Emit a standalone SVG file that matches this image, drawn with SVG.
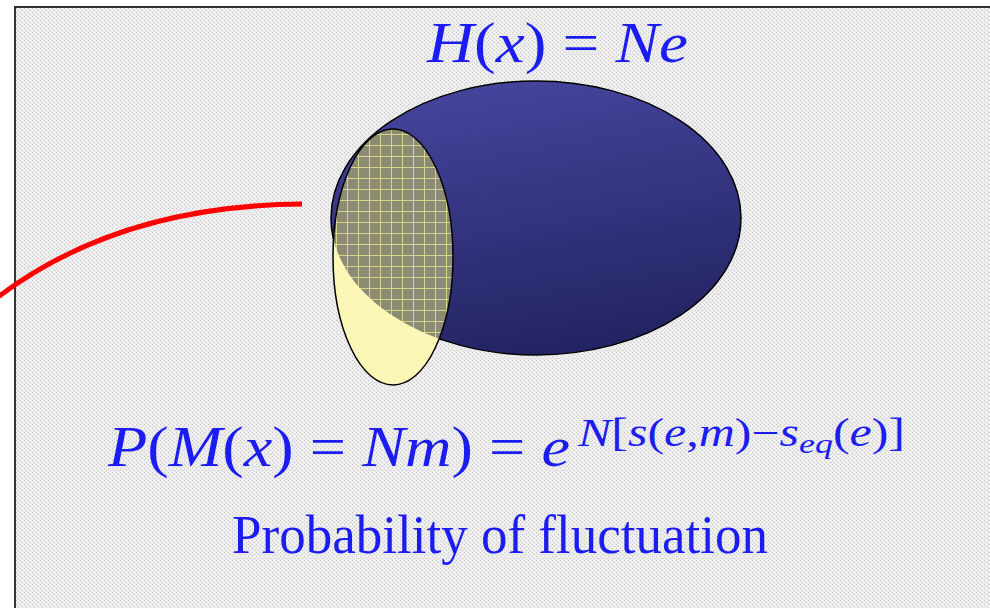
<svg xmlns="http://www.w3.org/2000/svg" width="990" height="608" viewBox="0 0 990 608">
<defs>
<pattern id="dots" width="4" height="4" patternUnits="userSpaceOnUse">
<rect width="4" height="4" fill="#ececec"/>
<rect x="0" y="0" width="1" height="1" fill="#c8c8c8"/>
<rect x="2" y="2" width="1" height="1" fill="#c8c8c8"/>
<rect x="2" y="0" width="1" height="1" fill="#ffffff"/>
</pattern>
<pattern id="grid" width="11" height="11" patternUnits="userSpaceOnUse" x="336" y="134">
<rect width="11" height="11" fill="#8c8b73"/>
<path d="M0 0.5H11M0.5 0V11" stroke="#d8d28a" stroke-width="1" fill="none"/>
</pattern>
<linearGradient id="blue" x1="0.3" y1="0" x2="0.55" y2="1">
<stop offset="0" stop-color="#45459e"/>
<stop offset="1" stop-color="#232362"/>
</linearGradient>
<clipPath id="blueClip"><ellipse cx="536" cy="218" rx="205" ry="137"/></clipPath>
<style>
.m{font-family:"Liberation Serif","DejaVu Serif",serif;fill:#1c1cf0;}
.i{font-style:italic;}
</style>
</defs>
<rect width="990" height="608" fill="#ffffff"/>
<rect x="15" y="7" width="990" height="620" fill="url(#dots)" stroke="#333333" stroke-width="2"/>
<g id="connectors">
<path d="M -2 297 C 80 235, 180 205, 302 204" fill="none" stroke="#ff0000" stroke-width="5"/>
</g>
<g id="set-H">
<ellipse cx="536" cy="218" rx="205" ry="137" fill="url(#blue)" stroke="#000000" stroke-width="1.5"/>
</g>
<g id="set-M">
<ellipse cx="393" cy="257" rx="60" ry="128" fill="#fcf7b6"/>
<ellipse cx="393" cy="257" rx="60" ry="128" fill="url(#grid)" clip-path="url(#blueClip)"/>
<ellipse cx="393" cy="257" rx="60" ry="128" fill="none" stroke="#000000" stroke-width="1.5"/>
</g>
<g id="labels">
<text class="m" x="427" y="62" font-size="56" textLength="261" lengthAdjust="spacingAndGlyphs"><tspan class="i">H</tspan>(<tspan class="i">x</tspan>) = <tspan class="i">Ne</tspan></text>
<text class="m" x="108" y="466" font-size="57" textLength="462" lengthAdjust="spacingAndGlyphs"><tspan class="i">P</tspan>(<tspan class="i">M</tspan>(<tspan class="i">x</tspan>) = <tspan class="i">Nm</tspan>) = <tspan class="i">e</tspan></text>
<text class="m" x="578" y="446" font-size="39" textLength="327" lengthAdjust="spacingAndGlyphs"><tspan class="i">N</tspan>[<tspan class="i">s</tspan>(<tspan class="i">e</tspan>,<tspan class="i">m</tspan>)−<tspan class="i">s</tspan><tspan class="i" font-size="28" dy="7">eq</tspan><tspan dy="-7">(</tspan><tspan class="i">e</tspan>)]</text>
<text class="m" x="232" y="553" font-size="54" textLength="536" lengthAdjust="spacingAndGlyphs">Probability of fluctuation</text>
</g>
</svg>
